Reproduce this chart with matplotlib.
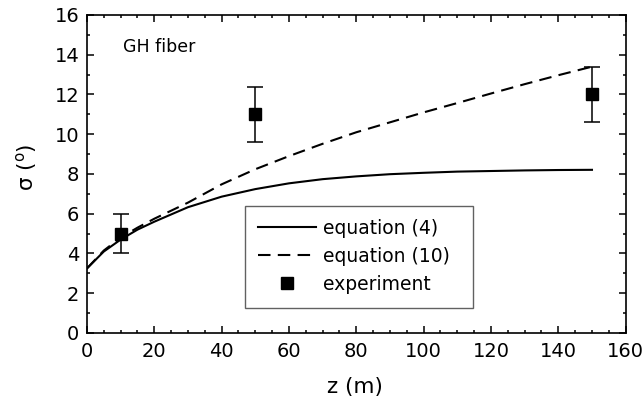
import matplotlib
matplotlib.use("Agg")
import matplotlib.pyplot as plt
from matplotlib.ticker import MultipleLocator
from matplotlib.lines import Line2D

plt.rcParams['font.family'] = ['DejaVu Sans']
plt.rcParams['mathtext.fontset'] = 'dejavusans'

# equation (4) curve
z_eq4 = [0, 5, 10, 15, 20, 30, 40, 50, 60, 70, 80, 90, 100, 110, 120, 130, 140, 150]
s_eq4 = [3.25, 4.1, 4.7, 5.2, 5.6, 6.33, 6.86, 7.24, 7.53, 7.74, 7.88, 7.99, 8.06, 8.12, 8.15, 8.18, 8.2, 8.21]

# equation (10) curve
z_eq10 = [0, 5, 10, 15, 20, 30, 40, 50, 60, 70, 80, 90, 100, 110, 120, 130, 140, 150]
s_eq10 = [3.25, 4.15, 4.8, 5.3, 5.75, 6.56, 7.48, 8.24, 8.9, 9.52, 10.1, 10.6, 11.1, 11.57, 12.05, 12.52, 12.97, 13.4]

# experiment
z_exp = [10, 50, 150]
s_exp = [5.0, 11.0, 12.0]
err_exp = [1.0, 1.4, 1.4]

labels = ['equation (4)', 'equation (10)', 'experiment']

fig = plt.figure(figsize=(6.43, 4.01), dpi=100)
ax = fig.add_axes([0.1353, 0.1696, 0.973 - 0.1353, 0.9626 - 0.1696])

l1, = ax.plot(z_eq4, s_eq4, color='black', lw=1.5)
l2, = ax.plot(z_eq10, s_eq10, color='black', lw=1.5, dashes=(6, 3.5))
ax.errorbar(z_exp, s_exp, yerr=err_exp, fmt='s', color='black', ms=8.5,
            ecolor='black', elinewidth=1.1, capsize=5.5, capthick=1.1)
h3 = Line2D([], [], marker='s', ls='none', color='black', ms=8)

ax.set_xlim(0, 160)
ax.set_ylim(0, 16)
ax.xaxis.set_major_locator(MultipleLocator(20))
ax.xaxis.set_minor_locator(MultipleLocator(5))
ax.yaxis.set_major_locator(MultipleLocator(2))
ax.yaxis.set_minor_locator(MultipleLocator(1))
ax.tick_params(which='both', direction='in', top=True, right=True, width=1.1, labelsize=14)
ax.tick_params(which='major', length=5)
ax.tick_params(which='minor', length=2.5)
ax.tick_params(axis='x', which='major', pad=6.5)
ax.tick_params(axis='y', which='major', pad=5.5)
for sp in ax.spines.values():
    sp.set_linewidth(1.2)

ax.set_xlabel('z (m)', fontsize=15.5)
ax.xaxis.set_label_coords(0.498, -0.137)
ax.set_ylabel(r'σ ($^{\mathrm{o}}$)', fontsize=15.5)
ax.yaxis.set_label_coords(-0.09, 0.52)

ax.text(10.7, 14.4, 'GH fiber', fontsize=12.5, ha='left', va='center')

leg = ax.legend([l1, l2, h3], labels, loc='lower left',
                bbox_to_anchor=(0.293, 0.08, 0.4235, 0.3),
                mode='expand', fontsize=13.5, frameon=True, fancybox=False,
                handlelength=3.1, handletextpad=0.35, borderpad=0.72, labelspacing=0.48,
                borderaxespad=0)
leg.get_frame().set_edgecolor('#3a3a3a')
leg.get_frame().set_linewidth(1.0)

fig.savefig('out.png', dpi=100)
